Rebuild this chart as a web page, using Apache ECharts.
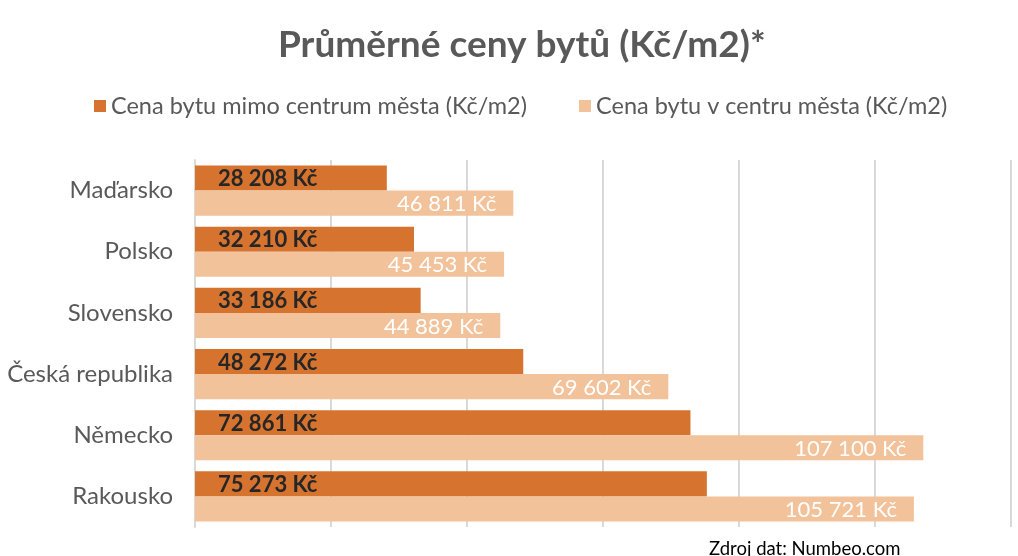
<!DOCTYPE html>
<html>
<head>
<meta charset="utf-8">
<script src="https://cdn.jsdelivr.net/npm/echarts@6/dist/echarts.min.js"></script>
<style>
html,body{margin:0;padding:0;background:#fff;}
#c{width:1018px;height:556px;}
</style>
</head>
<body>
<div id="c"></div>
<script>
const titleText = 'Průměrné ceny bytů (Kč/m2)*';
const sourceText = 'Zdroj dat: Numbeo.com';
const categories = ['Maďarsko', 'Polsko', 'Slovensko', 'Česká republika', 'Německo', 'Rakousko'];
const seriesNames = ['Cena bytu mimo centrum města (Kč/m2)', 'Cena bytu v centru města (Kč/m2)'];
const outsideCenter = [28208, 32210, 33186, 48272, 72861, 75273];
const cityCenter = [46811, 45453, 44889, 69602, 107100, 105721];

const FONT = 'Lato, "Open Sans", sans-serif';
function fmt(v) {
  return String(v).replace(/\B(?=(\d{3})+(?!\d))/g, ' ') + ' Kč';
}

const chart = echarts.init(document.getElementById('c'));
chart.setOption({
  backgroundColor: '#ffffff',
  animation: false,
  title: [{
    text: titleText,
    left: 273,
    top: 22,
    textStyle: { fontFamily: FONT, fontSize: 37, fontWeight: 'bold', color: '#595959' }
  }, {
    text: sourceText,
    left: 704,
    top: 535,
    textStyle: { fontFamily: FONT, fontSize: 18.5, fontWeight: 'normal', color: '#000000' }
  }],
  legend: {
    top: 89,
    left: 89,
    icon: 'rect',
    itemWidth: 12,
    itemHeight: 12,
    itemGap: 52,
    textStyle: { fontFamily: FONT, fontSize: 23.5, color: '#595959' },
    data: seriesNames
  },
  grid: { left: 195, right: 7, top: 160, bottom: 29, containLabel: false },
  xAxis: {
    type: 'value',
    min: 0,
    max: 120000,
    interval: 20000,
    axisLabel: { show: false },
    axisLine: { show: false },
    axisTick: { show: false },
    splitLine: { show: true, lineStyle: { color: '#d9d9d9', width: 2 } }
  },
  yAxis: {
    type: 'category',
    inverse: true,
    data: categories,
    axisLine: { show: true, lineStyle: { color: '#d9d9d9', width: 2 } },
    axisTick: { show: false },
    axisLabel: { fontFamily: FONT, fontSize: 24, color: '#595959', margin: 22 }
  },
  series: [{
    name: seriesNames[0],
    type: 'bar',
    data: outsideCenter,
    barGap: '0%',
    barCategoryGap: '18%',
    itemStyle: { color: '#d5732f' },
    label: {
      show: true,
      position: 'insideLeft',
      offset: [18, 1],
      formatter: p => fmt(p.value),
      fontFamily: FONT, fontSize: 22, fontWeight: 'bold', color: '#262626'
    }
  }, {
    name: seriesNames[1],
    type: 'bar',
    data: cityCenter,
    barGap: '0%',
    barCategoryGap: '18%',
    itemStyle: { color: '#f2c29a' },
    label: {
      show: true,
      position: 'insideRight',
      offset: [-12, 1],
      formatter: p => fmt(p.value),
      fontFamily: FONT, fontSize: 22, color: '#ffffff'
    }
  }]
});
</script>
</body>
</html>
